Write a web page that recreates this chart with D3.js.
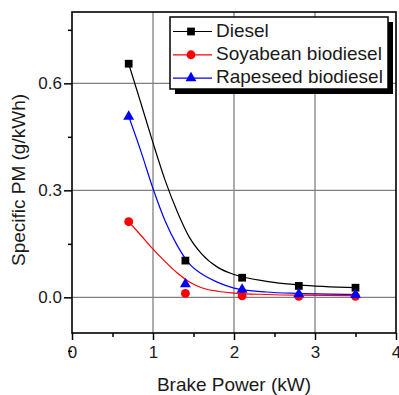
<!DOCTYPE html>
<head>
  <meta charset="utf-8">
</head>
<style>
body { margin: 0; background: #fff; }
text { font-family: "Liberation Sans", Arial, sans-serif; fill: #1a1a1a; }
.grid line { stroke: #808080; stroke-width: 1.3; }
.fit { fill: none; stroke-width: 1.2; }
</style>
<body>
<script src="https://d3js.org/d3.v7.min.js"></script>
<script>
// measured points
var power = [0.7, 1.4, 2.1, 2.8, 3.5];
var diesel = [0.655, 0.103, 0.055, 0.032, 0.027];
var soyabean = [0.212, 0.011, 0.004, 0.003, 0.003];
var rapeseed = [0.507, 0.037, 0.022, 0.009, 0.007];

// fitted curves
var fitPower = [0.7, 0.85, 1.0, 1.15, 1.3, 1.45, 1.6, 1.8, 2.0, 2.4, 2.8, 3.5];
var dieselFit = [0.655, 0.545, 0.433, 0.328, 0.24, 0.168, 0.122, 0.084, 0.064, 0.045, 0.035, 0.027];
var soyabeanFit = [0.212, 0.174, 0.135, 0.1, 0.068, 0.043, 0.027, 0.017, 0.012, 0.008, 0.006, 0.005];
var rapeseedFit = [0.507, 0.41, 0.305, 0.214, 0.145, 0.094, 0.066, 0.042, 0.026, 0.015, 0.011, 0.008];

var names = ["Diesel", "Soyabean biodiesel", "Rapeseed biodiesel"];
var colours = ["#000000", "#ff0000", "#0000ff"];
var xTicks = [0, 1, 2, 3, 4];
var yTicks = [0, 0.3, 0.6];

var width = 399, height = 395;
var pL = 72, pT = 12, pR = 396, pB = 333;

var svg = d3.select("body").append("svg")
  .attr("width", width)
  .attr("height", height);

var x = d3.scaleLinear().domain([0, 4]).range([pL, pR]);
var y = d3.scaleLinear().domain([-0.1, 0.8]).range([pB, pT]);

svg.append("clipPath").attr("id", "plot")
  .append("rect").attr("x", pL).attr("y", pT)
  .attr("width", pR - pL).attr("height", pB - pT);

// grid
var grid = svg.append("g").attr("class", "grid").attr("clip-path", "url(#plot)");
grid.selectAll(".gx").data(xTicks.slice(1, 4)).enter().append("line")
  .attr("x1", function(d) { return x(d); }).attr("x2", function(d) { return x(d); })
  .attr("y1", pT).attr("y2", pB);
grid.selectAll(".gy").data(yTicks).enter().append("line")
  .attr("y1", function(d) { return y(d); }).attr("y2", function(d) { return y(d); })
  .attr("x1", pL).attr("x2", pR);

// axes
var xAxis = d3.axisBottom(x).tickValues(xTicks).tickFormat(d3.format("d")).tickSize(7).tickPadding(6);
var xMinor = d3.axisBottom(x).tickValues([0.5, 1.5, 2.5, 3.5]).tickFormat("").tickSize(4);
var yAxis = d3.axisLeft(y).tickValues(yTicks).tickFormat(d3.format(".1f")).tickSize(8).tickPadding(2);
var yMinor = d3.axisLeft(y).tickValues([-0.15, 0.15, 0.45, 0.75]).tickFormat("").tickSize(4);

[xAxis, xMinor].forEach(function(a) {
  svg.append("g").attr("transform", "translate(0," + pB + ")").call(a);
});
[yAxis, yMinor].forEach(function(a) {
  svg.append("g").attr("transform", "translate(" + pL + ",0)").call(a);
});
svg.selectAll(".domain").remove();
svg.selectAll(".tick line").attr("stroke", "#000").attr("stroke-width", 1.5);
svg.selectAll(".tick text").attr("font-size", 17).attr("fill", "#1a1a1a")
  .attr("font-family", "'Liberation Sans', Arial, sans-serif");

svg.append("rect")
  .attr("x", pL).attr("y", pT)
  .attr("width", pR - pL).attr("height", pB - pT)
  .attr("fill", "none").attr("stroke", "#000").attr("stroke-width", 1.6);

// curves and markers
var series = [
  {fit: dieselFit, pts: diesel, c: colours[0], shape: d3.symbolSquare, size: 60},
  {fit: soyabeanFit, pts: soyabean, c: colours[1], shape: d3.symbolCircle, size: 62},
  {fit: rapeseedFit, pts: rapeseed, c: colours[2], shape: d3.symbolTriangle, size: 52}
];

var line = d3.line()
  .x(function(d) { return x(d[0]); })
  .y(function(d) { return y(d[1]); })
  .curve(d3.curveMonotoneX);

var plot = svg.append("g").attr("clip-path", "url(#plot)");
series.forEach(function(s) {
  plot.append("path").attr("class", "fit")
    .attr("stroke", s.c)
    .attr("d", line(d3.zip(fitPower, s.fit)));
});
series.forEach(function(s) {
  plot.selectAll(null).data(d3.zip(power, s.pts)).enter().append("path")
    .attr("d", d3.symbol().type(s.shape).size(s.size))
    .attr("transform", function(d) { return "translate(" + x(d[0]) + "," + y(d[1]) + ")"; })
    .attr("fill", s.c);
});

// legend
var lg = svg.append("g");
lg.append("rect").attr("x", 175).attr("y", 22).attr("width", 218).attr("height", 72).attr("fill", "#000");
lg.append("rect").attr("x", 170).attr("y", 17).attr("width", 218).attr("height", 72)
  .attr("fill", "#fff").attr("stroke", "#000").attr("stroke-width", 1.5);
names.forEach(function(n, i) {
  var ly = 31.5 + i * 23.3;
  lg.append("line").attr("x1", 173).attr("x2", 212).attr("y1", ly).attr("y2", ly)
    .attr("stroke", colours[i]).attr("stroke-width", 1.2);
  lg.append("path")
    .attr("d", d3.symbol().type(series[i].shape).size(series[i].size))
    .attr("transform", "translate(191," + ly + ")")
    .attr("fill", colours[i]);
  lg.append("text").attr("x", 216).attr("y", ly + 5)
    .attr("font-size", 19).text(n);
});

// axis titles
svg.append("text")
  .attr("x", (pL + pR) / 2).attr("y", 391)
  .attr("text-anchor", "middle").attr("font-size", 19)
  .text("Brake Power (kW)");
svg.append("text")
  .attr("transform", "translate(25," + 180 + ") rotate(-90)")
  .attr("text-anchor", "middle").attr("font-size", 19)
  .text("Specific PM (g/kWh)");
</script>
</body>
